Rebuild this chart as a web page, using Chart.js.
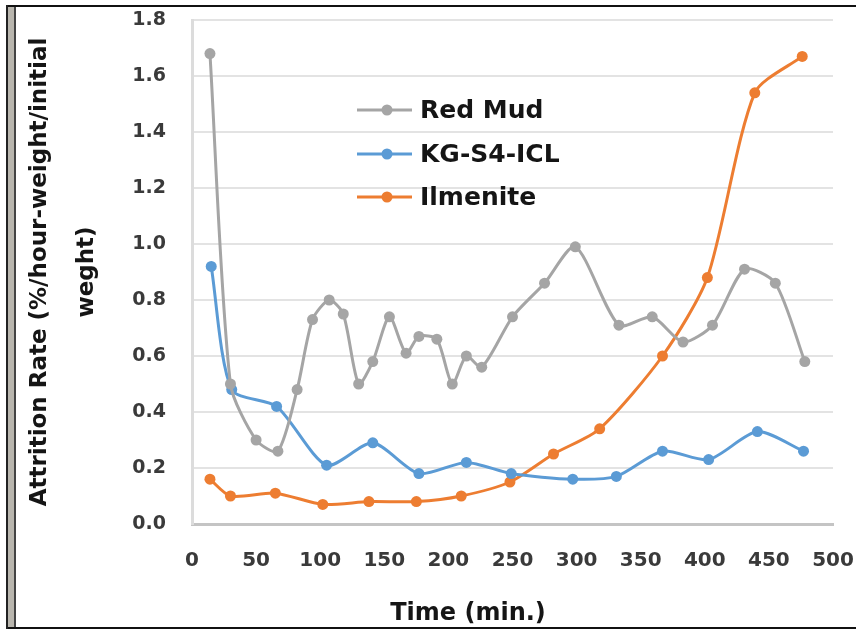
<!DOCTYPE html>
<html>
<head>
<meta charset="utf-8">
<script src="https://cdn.jsdelivr.net/npm/chart.js@4.4.1/dist/chart.umd.min.js"></script>
<style>
    body { margin: 0; background: #fff; }
    #wrap { position: relative; width: 856px; height: 629px; overflow: hidden; }
    #chart { position: absolute; left: 0; top: 0; }
    /* frame of the scanned figure */
    .frameTop { position: absolute; left: 6px; top: 5px; width: 850px; height: 2px; background: #111; }
    .frameBottom { position: absolute; left: 6px; top: 627px; width: 850px; height: 2px; background: #111; }
    .frameLeft { position: absolute; left: 6px; top: 5px; width: 2px; height: 624px; background: #222; }
    .frameStripe { position: absolute; left: 8px; top: 7px; width: 6px; height: 620px; background: #b9b6ae; }
    .frameInner { position: absolute; left: 14px; top: 7px; width: 2px; height: 620px; background: #444; }
</style>
</head>
<body>
<div id="wrap">
    <canvas id="chart" width="856" height="629"></canvas>
    <div class="frameTop"></div>
    <div class="frameBottom"></div>
    <div class="frameLeft"></div>
    <div class="frameStripe"></div>
    <div class="frameInner"></div>
</div>
<script>
// Data
const redMudTime = [14, 30, 50, 67, 82, 94, 107, 118, 130, 141, 154, 167, 177, 191, 203, 214, 226, 250, 275, 299, 333, 359, 383, 406, 431, 455, 478];
const redMudRate = [1.68, 0.50, 0.30, 0.26, 0.48, 0.73, 0.80, 0.75, 0.50, 0.58, 0.74, 0.61, 0.67, 0.66, 0.50, 0.60, 0.56, 0.74, 0.86, 0.99, 0.71, 0.74, 0.65, 0.71, 0.91, 0.86, 0.58];

const kgTime = [15, 31, 66, 105, 141, 177, 214, 249, 297, 331, 367, 403, 441, 477];
const kgRate = [0.92, 0.48, 0.42, 0.21, 0.29, 0.18, 0.22, 0.18, 0.16, 0.17, 0.26, 0.23, 0.33, 0.26];

const ilmTime = [14, 30, 65, 102, 138, 175, 210, 248, 282, 318, 367, 402, 439, 476];
const ilmRate = [0.16, 0.10, 0.11, 0.07, 0.08, 0.08, 0.10, 0.15, 0.25, 0.34, 0.60, 0.88, 1.54, 1.67];

const seriesNames = ['Red Mud', 'KG-S4-ICL', 'Ilmenite'];
const seriesColors = ['#a5a5a5', '#5b9bd5', '#ed7d31'];

const xTickMin = 0, xTickMax = 500, xTickStep = 50;
const yTickMin = 0, yTickMax = 1.8, yTickStep = 0.2;

const yTitle = ['Attrition Rate (%/hour-weight/initial', 'weght)'];
const xTitle = 'Time (min.)';

const FONT = "'DejaVu Sans', sans-serif";

function toPoints(xs, ys) {
    return xs.map((x, i) => ({ x: x, y: ys[i] }));
}

function makeSet(i, xs, ys) {
    return {
        label: seriesNames[i],
        data: toPoints(xs, ys),
        borderColor: seriesColors[i],
        backgroundColor: seriesColors[i],
        borderWidth: 3,
        pointRadius: 5.5,
        pointHoverRadius: 5.5,
        pointBorderWidth: 0,
        tension: 0.25,
        fill: false
    };
}

// legend drawn inside the plot, like the original
const insideLegend = {
    id: 'insideLegend',
    afterDraw(chart) {
        const ctx = chart.ctx;
        const rows = [110, 154, 197];
        ctx.save();
        chart.data.datasets.forEach((ds, i) => {
            const y = rows[i];
            ctx.strokeStyle = ds.borderColor;
            ctx.lineWidth = 3;
            ctx.beginPath();
            ctx.moveTo(357, y);
            ctx.lineTo(412, y);
            ctx.stroke();
            ctx.fillStyle = ds.borderColor;
            ctx.beginPath();
            ctx.arc(387, y, 5.5, 0, Math.PI * 2);
            ctx.fill();
            ctx.fillStyle = '#151515';
            ctx.font = 'bold 25px ' + FONT;
            ctx.textBaseline = 'middle';
            ctx.textAlign = 'left';
            ctx.fillText(ds.label, 420, y + 1);
        });
        ctx.restore();
    }
};

// x title sits left of the plot centre in the original
const xTitlePlugin = {
    id: 'xTitlePlugin',
    afterDraw(chart) {
        const ctx = chart.ctx;
        ctx.save();
        ctx.fillStyle = '#151515';
        ctx.font = 'bold 24px ' + FONT;
        ctx.textAlign = 'center';
        ctx.textBaseline = 'middle';
        ctx.fillText(xTitle, 468, 614);
        ctx.restore();
    }
};

const ctx = document.getElementById('chart');

new Chart(ctx, {
    type: 'line',
    data: {
        datasets: [
            makeSet(0, redMudTime, redMudRate),
            makeSet(1, kgTime, kgRate),
            makeSet(2, ilmTime, ilmRate)
        ]
    },
    options: {
        responsive: false,
        animation: false,
        layout: { padding: { left: 16, right: 23, top: 20, bottom: 0 } },
        plugins: {
            legend: { display: false },
            tooltip: { enabled: false }
        },
        scales: {
            x: {
                type: 'linear',
                min: xTickMin,
                max: xTickMax,
                ticks: {
                    stepSize: xTickStep,
                    padding: 25,
                    color: '#3a3a3a',
                    font: { family: FONT, size: 20, weight: 'bold' },
                    maxRotation: 0
                },
                grid: { display: false, drawTicks: false },
                border: { display: true, color: '#c4c4c4', width: 3 },
                title: { display: false },
                afterFit(scale) {
                    scale.height = 105;
                    // keep the plot edges where the original has them
                    scale.paddingLeft = 0;
                    scale.paddingRight = 0;
                }
            },
            y: {
                min: yTickMin,
                max: yTickMax,
                ticks: {
                    stepSize: yTickStep,
                    padding: 26,
                    color: '#3a3a3a',
                    font: { family: FONT, size: 19, weight: 'bold' },
                    callback: v => v.toFixed(1)
                },
                grid: { color: '#e3e3e3', lineWidth: 2, drawTicks: false },
                border: { display: true, color: '#dcdcdc', width: 3 },
                title: {
                    display: true,
                    text: yTitle,
                    color: '#151515',
                    font: { family: FONT, size: 23, weight: 'bold', lineHeight: 2.05 },
                    padding: { top: 0, bottom: 0 }
                },
                afterFit(scale) {
                    scale.width = 176;
                    scale.paddingTop = 0;
                    scale.paddingBottom = 0;
                }
            }
        }
    },
    plugins: [insideLegend, xTitlePlugin]
});
</script>
</body>
</html>
